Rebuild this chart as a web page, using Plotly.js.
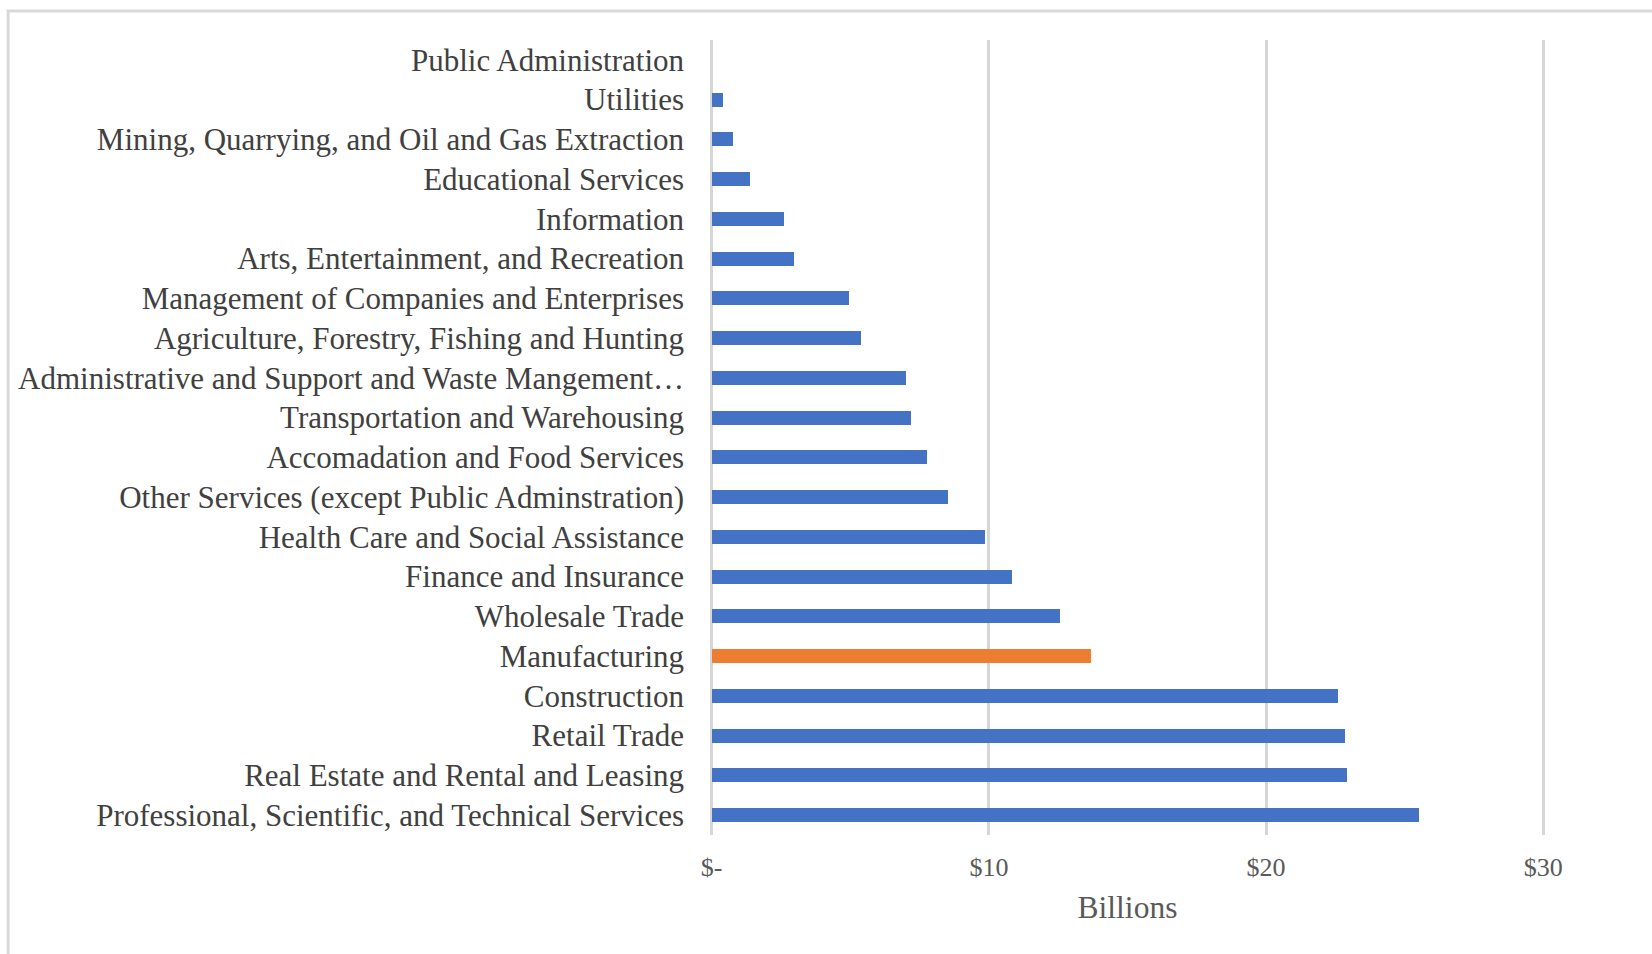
<!DOCTYPE html>
<html>
<head>
<meta charset="utf-8">
<script src="https://cdn.plot.ly/plotly-3.0.1.min.js"></script>
<style>
  html, body { margin: 0; padding: 0; background: #ffffff; }
  #chart { width: 1652px; height: 954px; }
</style>
</head>
<body>
<div id="chart"></div>
<script>
// Categories, top to bottom as shown
const industries = [
  "Public Administration",
  "Utilities",
  "Mining, Quarrying, and Oil and Gas Extraction",
  "Educational Services",
  "Information",
  "Arts, Entertainment, and Recreation",
  "Management of Companies and Enterprises",
  "Agriculture, Forestry, Fishing and Hunting",
  "Administrative and Support and Waste Mangement\u2026",
  "Transportation and Warehousing",
  "Accomadation and Food Services",
  "Other Services (except Public Adminstration)",
  "Health Care and Social Assistance",
  "Finance and Insurance",
  "Wholesale Trade",
  "Manufacturing",
  "Construction",
  "Retail Trade",
  "Real Estate and Rental and Leasing",
  "Professional, Scientific, and Technical Services"
];
// Values in billions of dollars
const valuesBillions = [
  0, 0.40, 0.76, 1.38, 2.62, 2.97, 4.95, 5.39, 7.01, 7.20,
  7.77, 8.54, 9.86, 10.82, 12.57, 13.68, 22.58, 22.85, 22.90, 25.53
];
const highlighted = "Manufacturing";
const xTickVals = [0, 10, 20, 30];
const xTickText = ["$-", "$10", "$20", "$30"];
const xTitle = "Billions";

(function () {
  const blue = "#4472C4", orange = "#ED7D31";
  const barColors = industries.map(c => c === highlighted ? orange : blue);

  const trace = {
    type: "bar",
    orientation: "h",
    y: industries,
    x: valuesBillions,
    width: 0.35,
    marker: { color: barColors, line: { width: 0 } },
    hoverinfo: "y+x"
  };

  const serif = "Liberation Serif, Times New Roman, serif";
  // small padding so the gridlines at $0 and $30 are drawn
  const pad = 0.06, pxPerUnit = 27.7;
  const plotL = 712 - pad * pxPerUnit, plotR = 1543 + pad * pxPerUnit, plotT = 40, plotB = 835.5;

  const layout = {
    width: 1652, height: 954,
    margin: { l: plotL, r: 1652 - plotR, t: plotT, b: 954 - plotB, pad: 0 },
    paper_bgcolor: "#ffffff",
    plot_bgcolor: "#ffffff",
    showlegend: false,
    bargap: 0,
    xaxis: {
      range: [-pad, 30 + pad],
      tickvals: xTickVals,
      ticktext: xTickText,
      showgrid: true,
      gridcolor: "#d6d6d6",
      gridwidth: 3,
      zeroline: false,
      showline: false,
      ticks: "",
      ticklabelstandoff: 14,
      tickfont: { family: serif, size: 26, color: "#595959" },
      title: { text: xTitle, font: { family: serif, size: 31.5, color: "#595959" }, standoff: 14 },
      fixedrange: true
    },
    yaxis: {
      type: "category",
      autorange: "reversed",
      showgrid: false,
      zeroline: false,
      showline: false,
      ticks: "",
      ticklabelstandoff: 25,
      tickfont: { family: serif, size: 31, color: "#404040" },
      automargin: false,
      fixedrange: true
    },
    shapes: [{
      type: "rect",
      xref: "paper", yref: "paper",
      x0: (9 - plotL) / (plotR - plotL),
      x1: 2,
      y0: -2,
      y1: (plotB - 11) / (plotB - plotT),
      line: { color: "#d9d9d9", width: 3 },
      fillcolor: "rgba(0,0,0,0)",
      layer: "below"
    }]
  };

  Plotly.newPlot("chart", [trace], layout, { displayModeBar: false, staticPlot: true });
})();
</script>
</body>
</html>
